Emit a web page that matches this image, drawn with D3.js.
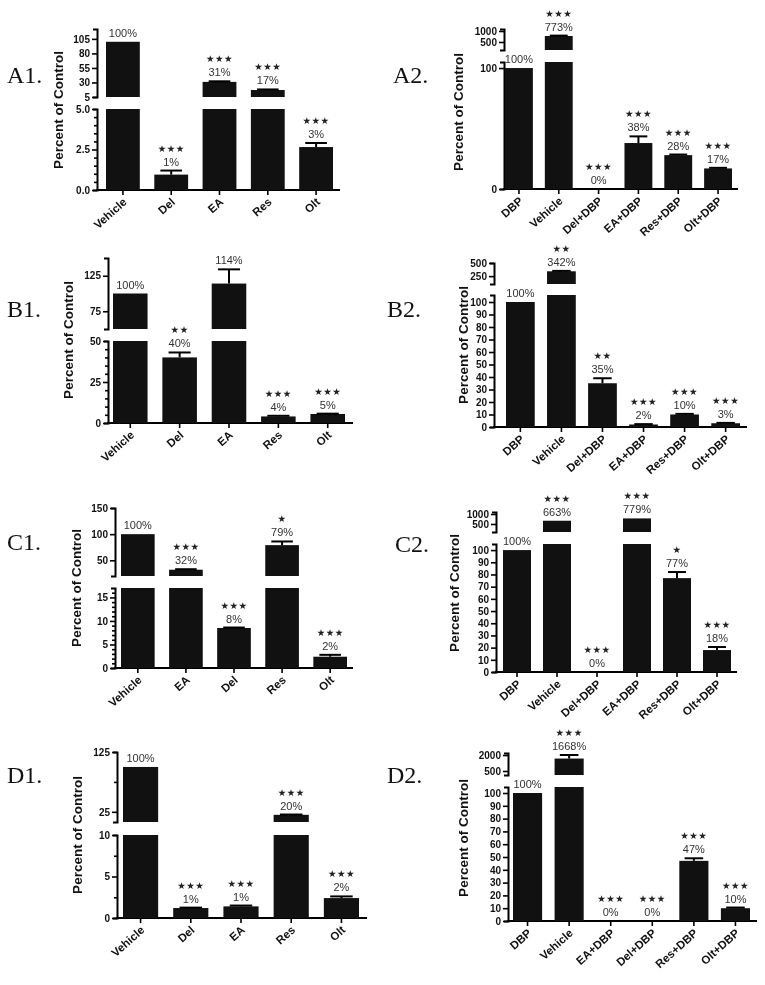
<!DOCTYPE html>
<html><head><meta charset="utf-8">
<script src="https://cdn.jsdelivr.net/npm/d3@7"></script>
<style>
body{margin:0;background:#fff;}
svg{display:block;will-change:transform;-webkit-font-smoothing:antialiased;}
.tick text{font-family:"Liberation Sans",Arial,sans-serif;font-weight:bold;font-size:10px;fill:#111;}
</style></head>
<body><svg id="chart" width="765" height="985"></svg>
<script>
// ---------------- DATA ----------------
const A1_categories = ["Vehicle","Del","EA","Res","Olt"];
const A1_values = [100, 0.95, 31, 17, 2.65];
const A1_errors = [null, 1.2, 32, 18, 2.9];
const A1_pctLabels = ["100%","1%","31%","17%","3%"];
const A1_stars = ["","***","***","***","***"];
const A1_upperDomain = [5, 122], A1_lowerDomain = [0, 5];
const A1_upperTicks = [5,30,55,80,105], A1_lowerTicks = [0,2.5,5];
const A1_upperMinor = [], A1_lowerMinor = [0.5,1,1.5,2,3,3.5,4,4.5];

const A2_categories = ["DBP","Vehicle","Del+DBP","EA+DBP","Res+DBP","Olt+DBP"];
const A2_values = [100, 773, 0, 38, 28, 17];
const A2_errors = [null, 790, null, 43.5, 28.5, 17.5];
const A2_pctLabels = ["100%","773%","0%","38%","28%","17%"];
const A2_stars = ["","***","***","***","***","***"];
const A2_upperDomain = [136, 1091], A2_lowerDomain = [0, 105];
const A2_upperTicks = [500,1000], A2_lowerTicks = [0,100];
const A2_upperMinor = [], A2_lowerMinor = [];

const B1_categories = ["Vehicle","Del","EA","Res","Olt"];
const B1_values = [100, 40, 114, 4, 5.5];
const B1_errors = [null, 43, 134, 4.4, 5.7];
const B1_pctLabels = ["100%","40%","114%","4%","5%"];
const B1_stars = ["","**","","***","***"];
const B1_upperDomain = [50, 150], B1_lowerDomain = [0, 50];
const B1_upperTicks = [75,125], B1_lowerTicks = [0,25,50];
const B1_upperMinor = [], B1_lowerMinor = [5,10,15,20,30,35,40,45];

const B2_categories = ["DBP","Vehicle","Del+DBP","EA+DBP","Res+DBP","Olt+DBP"];
const B2_values = [100, 342, 35, 2, 10, 3];
const B2_errors = [null, 350, 39, 2.3, 10.5, 3.3];
const B2_pctLabels = ["100%","342%","35%","2%","10%","3%"];
const B2_stars = ["","**","**","***","***","***"];
const B2_upperDomain = [100, 500], B2_lowerDomain = [0, 105.6];
const B2_upperTicks = [250,500], B2_lowerTicks = [0,10,20,30,40,50,60,70,80,90,100];
const B2_upperMinor = [], B2_lowerMinor = [];

const C1_categories = ["Vehicle","EA","Del","Res","Olt"];
const C1_values = [100, 32, 8.5, 79, 2.4];
const C1_errors = [null, 33, 8.6, 86, 2.8];
const C1_pctLabels = ["100%","32%","8%","79%","2%"];
const C1_stars = ["","***","***","*","***"];
const C1_upperDomain = [20, 150], C1_lowerDomain = [0, 17];
const C1_upperTicks = [50,100,150], C1_lowerTicks = [0,5,10,15];
const C1_upperMinor = [], C1_lowerMinor = [1,2,3,4,6,7,8,9,11,12,13,14,16];

const C2_categories = ["DBP","Vehicle","Del+DBP","EA+DBP","Res+DBP","Olt+DBP"];
const C2_values = [100, 663, 0, 779, 77, 18];
const C2_errors = [null, null, null, null, 82, 20.5];
const C2_pctLabels = ["100%","663%","0%","779%","77%","18%"];
const C2_stars = ["","***","***","***","*","***"];
const C2_upperDomain = [100, 1100], C2_lowerDomain = [0, 105];
const C2_upperTicks = [500,1000], C2_lowerTicks = [0,10,20,30,40,50,60,70,80,90,100];
const C2_upperMinor = [], C2_lowerMinor = [];

const D1_categories = ["Vehicle","Del","EA","Res","Olt"];
const D1_values = [100, 1.2, 1.4, 20, 2.4];
const D1_errors = [null, 1.25, 1.5, 20.5, 2.6];
const D1_pctLabels = ["100%","1%","1%","20%","2%"];
const D1_stars = ["","***","***","***","***"];
const D1_upperDomain = [8, 125], D1_lowerDomain = [0, 10];
const D1_upperTicks = [25,125], D1_lowerTicks = [0,5,10];
const D1_upperMinor = [75], D1_lowerMinor = [2.5,7.5];

const D2_categories = ["DBP","Vehicle","EA+DBP","Del+DBP","Res+DBP","Olt+DBP"];
const D2_values = [100, 1668, 0, 0, 47, 10];
const D2_errors = [null, 2000, null, null, 49, 10.5];
const D2_pctLabels = ["100%","1668%","0%","0%","47%","10%"];
const D2_stars = ["","***","***","***","***","***"];
const D2_upperDomain = [125, 2190], D2_lowerDomain = [0, 104.7];
const D2_upperTicks = [500,2000], D2_lowerTicks = [0,10,20,30,40,50,60,70,80,90,100];
const D2_upperMinor = [], D2_lowerMinor = [];

// ---------------- LAYOUT ----------------
const layout = {
  A1:{ax:97, xEnd:340, b0:106, b1:333, upY:[97,29],  loY:[190,109], ylab:[58,110],  plab:[7,83]},
  A2:{ax:504,xEnd:738, b0:505, b1:732, upY:[50,29],  loY:[189,62],  ylab:[458,112], plab:[393,83]},
  B1:{ax:108,xEnd:353, b0:113, b1:345, upY:[329,258],loY:[423,341], ylab:[68,340],  plab:[7,317]},
  B2:{ax:494,xEnd:747, b0:506, b1:740, upY:[284,263],loY:[427,295], ylab:[463,345], plab:[387,317]},
  C1:{ax:115,xEnd:353, b0:121, b1:347, upY:[576,508],loY:[668,588], ylab:[76,588],  plab:[7,550]},
  C2:{ax:496,xEnd:737, b0:503, b1:731, upY:[532,512],loY:[672,544], ylab:[454,593], plab:[395,552]},
  D1:{ax:117,xEnd:367, b0:123, b1:359, upY:[822,752],loY:[918,835], ylab:[77,835],  plab:[7,783]},
  D2:{ax:508,xEnd:757, b0:513, b1:750, upY:[775,753],loY:[921,787], ylab:[463,838], plab:[387,783]}
};

const panels = [
  {id:"A1", cats:A1_categories, vals:A1_values, errs:A1_errors, pct:A1_pctLabels, stars:A1_stars, upD:A1_upperDomain, loD:A1_lowerDomain, upT:A1_upperTicks, loT:A1_lowerTicks, upM:A1_upperMinor, loM:A1_lowerMinor, loFmt:".1f"},
  {id:"A2", cats:A2_categories, vals:A2_values, errs:A2_errors, pct:A2_pctLabels, stars:A2_stars, upD:A2_upperDomain, loD:A2_lowerDomain, upT:A2_upperTicks, loT:A2_lowerTicks, upM:A2_upperMinor, loM:A2_lowerMinor},
  {id:"B1", cats:B1_categories, vals:B1_values, errs:B1_errors, pct:B1_pctLabels, stars:B1_stars, upD:B1_upperDomain, loD:B1_lowerDomain, upT:B1_upperTicks, loT:B1_lowerTicks, upM:B1_upperMinor, loM:B1_lowerMinor},
  {id:"B2", cats:B2_categories, vals:B2_values, errs:B2_errors, pct:B2_pctLabels, stars:B2_stars, upD:B2_upperDomain, loD:B2_lowerDomain, upT:B2_upperTicks, loT:B2_lowerTicks, upM:B2_upperMinor, loM:B2_lowerMinor},
  {id:"C1", cats:C1_categories, vals:C1_values, errs:C1_errors, pct:C1_pctLabels, stars:C1_stars, upD:C1_upperDomain, loD:C1_lowerDomain, upT:C1_upperTicks, loT:C1_lowerTicks, upM:C1_upperMinor, loM:C1_lowerMinor},
  {id:"C2", cats:C2_categories, vals:C2_values, errs:C2_errors, pct:C2_pctLabels, stars:C2_stars, upD:C2_upperDomain, loD:C2_lowerDomain, upT:C2_upperTicks, loT:C2_lowerTicks, upM:C2_upperMinor, loM:C2_lowerMinor},
  {id:"D1", cats:D1_categories, vals:D1_values, errs:D1_errors, pct:D1_pctLabels, stars:D1_stars, upD:D1_upperDomain, loD:D1_lowerDomain, upT:D1_upperTicks, loT:D1_lowerTicks, upM:D1_upperMinor, loM:D1_lowerMinor},
  {id:"D2", cats:D2_categories, vals:D2_values, errs:D2_errors, pct:D2_pctLabels, stars:D2_stars, upD:D2_upperDomain, loD:D2_lowerDomain, upT:D2_upperTicks, loT:D2_lowerTicks, upM:D2_upperMinor, loM:D2_lowerMinor}
];

const svg = d3.select("#chart");
const BAR = "#111";
const SANS = '"Liberation Sans", Arial, Helvetica, sans-serif';

function styleAxis(g){
  g.selectAll("path.domain").attr("stroke","#000").attr("stroke-width",2);
  g.selectAll(".tick line").attr("stroke","#000").attr("stroke-width",1.6);
}

panels.forEach(p => {
  const L = layout[p.id];
  const g = svg.append("g");
  const x = d3.scaleBand().domain(p.cats).range([L.b0, L.b1]).paddingInner(0.3).paddingOuter(0);
  const yUp = d3.scaleLinear().domain(p.upD).range(L.upY);
  const yLo = d3.scaleLinear().domain(p.loD).range(L.loY);
  const loMax = p.loD[1], upMin = p.upD[0], upMax = p.upD[1];
  const yOf = v => v > loMax ? yUp(Math.min(v, upMax)) : yLo(v);

  // y axes (two segments of a broken axis)
  const upAx = g.append("g").attr("transform",`translate(${L.ax},0)`)
    .call(d3.axisLeft(yUp).tickValues(p.upT).tickSize(5).tickSizeOuter(4).tickPadding(2).tickFormat(d3.format("d")));
  styleAxis(upAx);
  const loAx = g.append("g").attr("transform",`translate(${L.ax},0)`)
    .call(d3.axisLeft(yLo).tickValues(p.loT).tickSize(5).tickSizeOuter(4).tickPadding(2)
      .tickFormat(p.loFmt ? d3.format(p.loFmt) : d3.format("d")));
  styleAxis(loAx);
  [[yUp,p.upM],[yLo,p.loM]].forEach(([s,m]) => {
    if (!m.length) return;
    const mg = g.append("g").attr("transform",`translate(${L.ax},0)`)
      .call(d3.axisLeft(s).tickValues(m).tickSize(3).tickFormat(""));
    mg.select("path.domain").remove();
    styleAxis(mg);
  });

  // x axis
  const y0 = yLo(0);
  g.append("line").attr("x1",L.ax-1).attr("x2",L.xEnd).attr("y1",y0).attr("y2",y0)
    .attr("stroke","#000").attr("stroke-width",2);
  const xAx = g.append("g").attr("transform",`translate(0,${y0})`)
    .call(d3.axisBottom(x).tickSize(5).tickFormat(""));
  xAx.select("path.domain").remove();
  styleAxis(xAx);
  g.selectAll(null).data(p.cats).enter().append("text")
    .attr("transform", d => `translate(${x(d)+x.bandwidth()/2+2},${y0+10}) rotate(-42)`)
    .attr("text-anchor","end").attr("dy","0.35em")
    .style("font-family",SANS).style("font-weight","bold").style("font-size","11.5px").style("fill","#111")
    .text(d => d);

  // bars
  const data = p.cats.map((c,i)=>({c, v:p.vals[i], e:p.errs[i], pct:p.pct[i], st:p.stars[i]}));
  const cx = d => x(d.c) + x.bandwidth()/2;
  g.selectAll(null).data(data.filter(d=>d.v>0)).enter().append("rect")
    .attr("x", d=>x(d.c)).attr("width", x.bandwidth())
    .attr("y", d=>yLo(Math.min(d.v, loMax))).attr("height", d=>y0 - yLo(Math.min(d.v, loMax)))
    .attr("fill",BAR);
  g.selectAll(null).data(data.filter(d=>d.v>upMin)).enter().append("rect")
    .attr("x", d=>x(d.c)).attr("width", x.bandwidth())
    .attr("y", d=>yUp(Math.min(d.v, upMax))).attr("height", d=>yUp(upMin) - yUp(Math.min(d.v, upMax)))
    .attr("fill",BAR);

  // error bars
  const eb = data.filter(d=>d.e!=null && d.e>d.v);
  g.selectAll(null).data(eb).enter().append("line")
    .attr("x1",cx).attr("x2",cx).attr("y1",d=>yOf(d.v)).attr("y2",d=>yOf(d.e))
    .attr("stroke","#000").attr("stroke-width",2);
  g.selectAll(null).data(eb).enter().append("line")
    .attr("x1",d=>cx(d)-x.bandwidth()*0.32).attr("x2",d=>cx(d)+x.bandwidth()*0.32)
    .attr("y1",d=>yOf(d.e)).attr("y2",d=>yOf(d.e))
    .attr("stroke","#000").attr("stroke-width",2);

  // labels
  const topOf = d => yOf(Math.max(d.v, d.e==null?d.v:d.e));
  g.selectAll(null).data(data).enter().append("text")
    .attr("x",cx).attr("y",d=>topOf(d)-5).attr("text-anchor","middle")
    .style("font-family",SANS).style("font-size","11px").style("fill","#333")
    .text(d=>d.pct);
  g.selectAll(null).data(data.filter(d=>d.st)).enter().append("text")
    .attr("x",cx).attr("y",d=>topOf(d)-19).attr("text-anchor","middle")
    .style("font-family","DejaVu Sans, sans-serif").style("font-size","9.5px").style("letter-spacing","0.5px").style("fill","#222")
    .text(d=>d.st.replace(/\*/g,"\u2605"));

  // y label
  g.append("text").attr("transform",`translate(${L.ylab[0]},${L.ylab[1]}) rotate(-90)`)
    .attr("text-anchor","middle").attr("dy","0.35em")
    .style("font-family",SANS).style("font-weight","bold").style("font-size","13.5px").style("fill","#111")
    .text("Percent of Control");
  // panel label
  g.append("text").attr("x",L.plab[0]).attr("y",L.plab[1])
    .style("font-family",'"Liberation Serif","Times New Roman",serif').style("font-size","24px").style("fill","#111")
    .text(p.id + ".");
});
</script></body></html>
